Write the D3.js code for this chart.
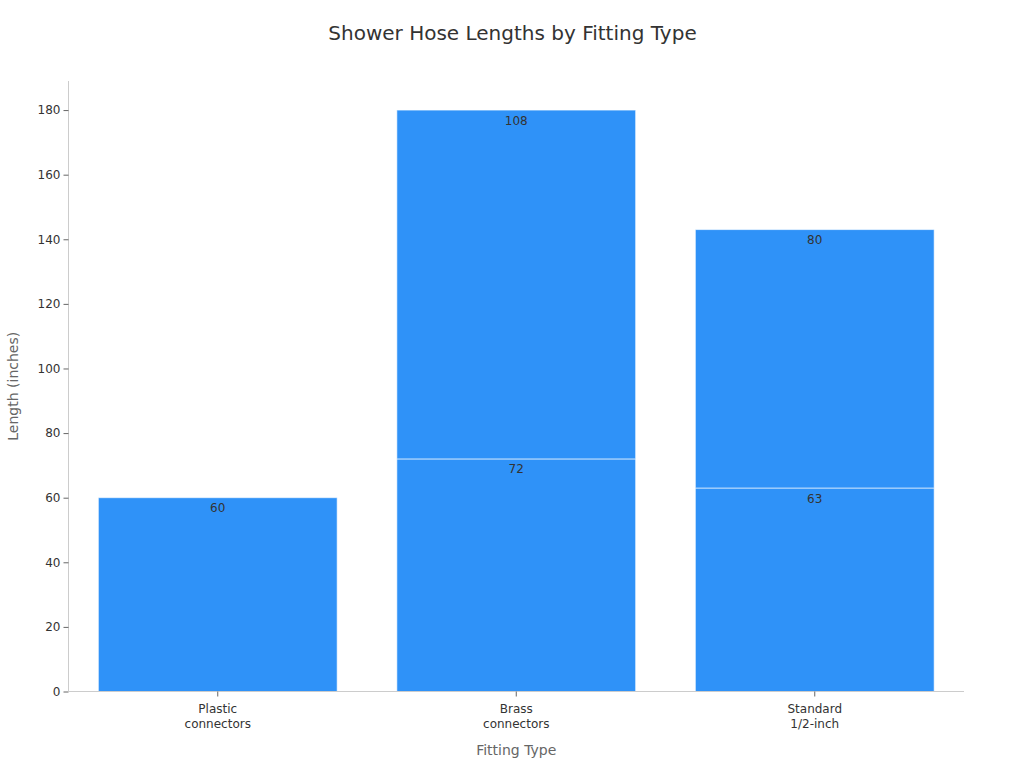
<!DOCTYPE html>
<html><head><meta charset="utf-8">
<script src="https://cdn.jsdelivr.net/npm/d3@7"></script>
<style>body{margin:0;background:#fff;font-family:"DejaVu Sans",sans-serif}</style>
</head><body>
<svg id="c" width="1024" height="768"></svg>
<script>
const categories = [["Plastic","connectors"],["Brass","connectors"],["Standard","1/2-inch"]];
const baseValues = [60, 72, 63];
const topValues = [0, 108, 80];
const yTicks = [0,20,40,60,80,100,120,140,160,180];

const svg = d3.select("#c");
const m = {l:68.5, r:964, t:81, b:691.5};
const keys = categories.map(c=>c.join(" "));
const x = d3.scaleBand().domain(keys).range([m.l,m.r]).paddingInner(0.2).paddingOuter(0.1);
const y = d3.scaleLinear().domain([0,189]).range([m.b,m.t]);
const color = "#2f92f8";

svg.append("text").attr("x",512.5).attr("y",40).attr("text-anchor","middle")
  .attr("font-size",20).attr("fill","#333").text("Shower Hose Lengths by Fitting Type");

// bars
keys.forEach((k,i)=>{
  const segs = [[0, baseValues[i]]];
  if (topValues[i]>0) segs.push([baseValues[i], baseValues[i]+topValues[i]]);
  segs.forEach(([a,b])=>{
    svg.append("rect").attr("x",x(k)).attr("width",x.bandwidth())
      .attr("y",y(b)).attr("height",y(a)-y(b))
      .attr("fill",color).attr("stroke","#ffffff").attr("stroke-opacity",0.6).attr("stroke-width",1);
    svg.append("text").attr("x",x(k)+x.bandwidth()/2).attr("y",y(b)+14.5)
      .attr("text-anchor","middle").attr("font-size",12).attr("fill","#333").text(b-a);
  });
});

// y axis
const ya = svg.append("g").attr("transform",`translate(${m.l},0)`)
  .call(d3.axisLeft(y).tickValues(yTicks).tickSize(5).tickPadding(3));
ya.select(".domain").attr("stroke","#ccc").attr("d",`M0,${m.t}V${m.b}`);
ya.selectAll(".tick line").attr("stroke","#666");
ya.selectAll(".tick text").attr("font-size",12).attr("fill","#333").attr("font-family","DejaVu Sans");

// x axis
const xa = svg.append("g").attr("transform",`translate(0,${m.b})`)
  .call(d3.axisBottom(x).tickSize(5).tickFormat(()=>""));
xa.select(".domain").attr("stroke","#ccc").attr("d",`M${m.l},0H${m.r}`);
xa.selectAll(".tick line").attr("stroke","#666");
xa.selectAll(".tick").each(function(d,i){
  const t = d3.select(this).append("text").attr("fill","#333").attr("font-size",12)
    .attr("text-anchor","middle").attr("font-family","DejaVu Sans");
  categories[i].forEach((line,j)=>t.append("tspan").attr("x",0).attr("y",21+j*15).text(line));
});

svg.append("text").attr("x",(m.l+m.r)/2).attr("y",755).attr("text-anchor","middle")
  .attr("font-size",14).attr("fill","#666").text("Fitting Type");
svg.append("text").attr("transform",`translate(17.5,${(m.t+m.b)/2}) rotate(-90)`).attr("text-anchor","middle")
  .attr("font-size",14).attr("fill","#666").text("Length (inches)");
</script>
</body></html>
